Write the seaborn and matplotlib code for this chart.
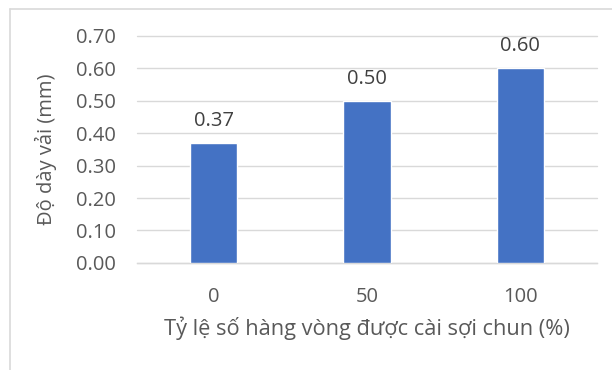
import matplotlib
matplotlib.use("Agg")
import matplotlib.pyplot as plt
from matplotlib.lines import Line2D
import seaborn as sns
import pandas as pd

# Data
categories = ["0", "50", "100"]
thickness = [0.37, 0.50, 0.60]
y_ticks = [0.00, 0.10, 0.20, 0.30, 0.40, 0.50, 0.60, 0.70]

x_title = "Tỷ lệ số hàng vòng được cài sợi chun (%)"
y_title = "Độ dày vải (mm)"

sns.set_theme(style="white")
plt.rcParams["font.family"] = ["Open Sans", "DejaVu Sans"]

text_color = "#595959"
grid_color = "#D9D9D9"
bar_color = "#4472C4"
fs = 14.5

df = pd.DataFrame({"ratio": categories, "thickness": thickness})

fig = plt.figure(figsize=(6.12, 3.70), dpi=100)
ax = fig.add_axes([0.2239, 0.2892, 0.7516, 0.6148])

sns.barplot(data=df, x="ratio", y="thickness", order=categories,
            color=bar_color, saturation=1, width=0.31, ax=ax, zorder=3)

ax.set_ylim(0, 0.70)
ax.set_yticks(y_ticks)
ax.set_yticklabels([f"{v:.2f}" for v in y_ticks])
ax.yaxis.grid(True, color=grid_color, linewidth=1.0, zorder=0)
for gl in ax.yaxis.get_gridlines():
    gl.set_clip_on(False)
ax.xaxis.grid(False)

for side in ["top", "right", "left"]:
    ax.spines[side].set_visible(False)
ax.spines["bottom"].set_color(grid_color)
ax.spines["bottom"].set_linewidth(1.0)

ax.tick_params(axis="both", length=0, labelsize=fs, colors=text_color)
ax.tick_params(axis="y", pad=15)
ax.tick_params(axis="x", pad=17)

ax.set_xlabel(x_title, fontsize=15.7, color=text_color, labelpad=7)
ax.set_ylabel(y_title, fontsize=fs, color=text_color, labelpad=14)

for patch, val in zip(ax.patches, thickness):
    ax.annotate(f"{val:.2f}",
                xy=(patch.get_x() + patch.get_width() / 2, val),
                xytext=(0, 8.5), textcoords="offset points",
                ha="center", va="bottom", fontsize=fs, color="#404040")

# Light chart-area border (top and left edges)
W, H = 612, 370
fig.add_artist(Line2D([10 / W, 10 / W], [0, 1 - 9 / H],
                      transform=fig.transFigure, color="#D9D9D9", linewidth=1.2))
fig.add_artist(Line2D([10 / W, 1], [1 - 9 / H, 1 - 9 / H],
                      transform=fig.transFigure, color="#D9D9D9", linewidth=1.2))

fig.savefig("out.png", dpi=100, facecolor="white")
